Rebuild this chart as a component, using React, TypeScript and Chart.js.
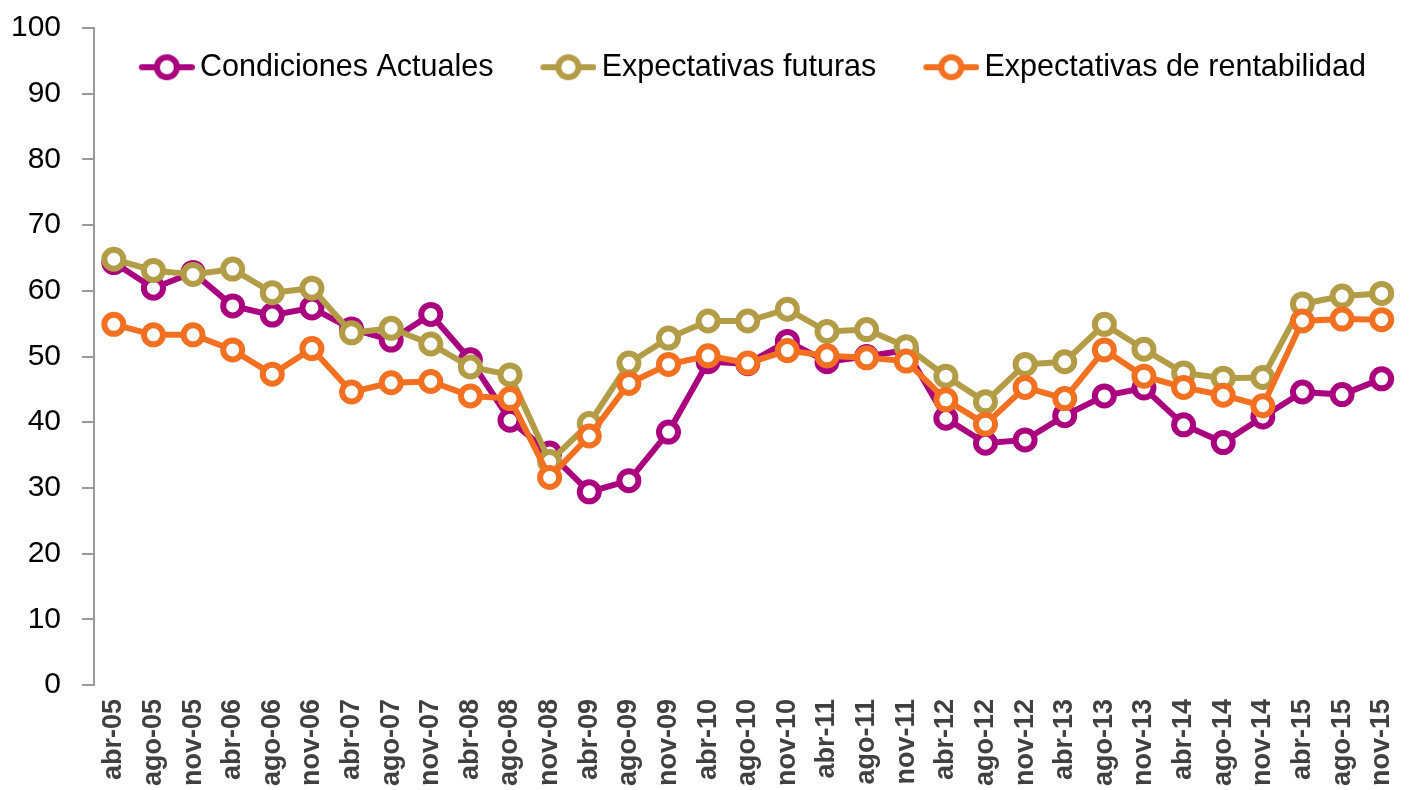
import React, { useEffect, useRef } from "react";
import { Chart, registerables } from "chart.js";

Chart.register(...registerables);

const categories = [
  "abr-05", "ago-05", "nov-05", "abr-06", "ago-06", "nov-06", "abr-07", "ago-07", "nov-07",
  "abr-08", "ago-08", "nov-08", "abr-09", "ago-09", "nov-09", "abr-10", "ago-10", "nov-10",
  "abr-11", "ago-11", "nov-11", "abr-12", "ago-12", "nov-12", "abr-13", "ago-13", "nov-13",
  "abr-14", "ago-14", "nov-14", "abr-15", "ago-15", "nov-15",
];

const condicionesActuales = [
  64.3, 60.4, 62.8, 57.7, 56.3, 57.4, 54.2, 52.5, 56.4, 49.5, 40.3, 35.3, 29.4, 31.1, 38.5,
  49.2, 48.9, 52.3, 49.2, 50.0, 51.0, 40.6, 36.8, 37.3, 41.0, 44.0, 45.2, 39.6, 36.9, 40.8,
  44.6, 44.2, 46.6,
];

const expectativasFuturas = [
  64.8, 63.1, 62.5, 63.3, 59.7, 60.4, 53.6, 54.3, 51.9, 48.4, 47.2, 34.0, 39.8, 49.0, 52.8,
  55.4, 55.4, 57.2, 53.8, 54.1, 51.5, 47.0, 43.1, 48.8, 49.2, 54.9, 51.1, 47.5, 46.7, 46.8,
  58.0, 59.2, 59.6,
];

const expectativasRentabilidad = [
  54.9, 53.3, 53.3, 51.0, 47.3, 51.2, 44.6, 46.0, 46.2, 44.0, 43.6, 31.6, 37.9, 45.9, 48.8,
  50.1, 49.0, 50.9, 50.1, 49.8, 49.3, 43.4, 39.7, 45.3, 43.6, 51.0, 47.0, 45.3, 44.1, 42.5,
  55.4, 55.7, 55.6,
];

const seriesNames = ["Condiciones Actuales", "Expectativas futuras", "Expectativas de rentabilidad"];
const seriesColors = ["#AA0080", "#B39C46", "#F37021"];

const yMin = 0;
const yMax = 100;
const yStep = 10;

const FONT = "'Liberation Sans', Arial, sans-serif";

function makeLegendSample(color: string): HTMLCanvasElement {
  const c = document.createElement("canvas");
  const W = 61;
  const H = 30;
  c.width = W;
  c.height = H;
  const ctx = c.getContext("2d")!;
  const x0 = W - 56;
  const x1 = W;
  const cy = H / 2;
  const cx = (x0 + x1) / 2;
  ctx.strokeStyle = color;
  ctx.lineCap = "round";
  ctx.lineWidth = 6;
  ctx.beginPath();
  ctx.moveTo(x0 + 3, cy);
  ctx.lineTo(x1 - 3, cy);
  ctx.stroke();
  ctx.beginPath();
  ctx.arc(cx, cy, 10, 0, Math.PI * 2);
  ctx.fillStyle = "#ffffff";
  ctx.fill();
  ctx.lineWidth = 6;
  ctx.stroke();
  return c;
}

export default function App() {
  const canvasRef = useRef<HTMLCanvasElement | null>(null);

  useEffect(() => {
    const canvas = canvasRef.current;
    if (!canvas) return;
    const samples = seriesColors.map((c) => makeLegendSample(c));
    const seriesData = [condicionesActuales, expectativasFuturas, expectativasRentabilidad];

    const legendOverlayPlugin = {
      id: "legendOverlay",
      beforeInit(chart: any) {
        const legend = chart.legend;
        if (!legend) return;
        const origFit = legend.fit;
        legend.fit = function () {
          origFit.call(this);
          this.height = 28;
        };
        legend.draw = function () {
          if (!this.options.display) return;
          const ctx = this.ctx;
          ctx.save();
          ctx.translate(-3, 0);
          this._draw();
          ctx.restore();
        };
      },
    };

    const chart = new Chart(canvas, {
      type: "line",
      data: {
        labels: categories,
        datasets: seriesData.map((d, i) => ({
          label: seriesNames[i],
          data: d,
          borderColor: seriesColors[i],
          backgroundColor: seriesColors[i],
          borderWidth: 6,
          pointRadius: 9.5,
          pointBorderWidth: 6,
          pointBackgroundColor: "#ffffff",
          pointBorderColor: seriesColors[i],
          pointHoverRadius: 9.5,
          tension: 0,
          fill: false,
          order: 3 - i,
        })),
      },
      options: {
        responsive: false,
        animation: false,
        layout: { padding: { left: 0, right: -4, top: 0, bottom: 0 } },
        plugins: {
          tooltip: { enabled: false },
          legend: {
            display: true,
            position: "top",
            fullSize: true,
            align: "end",
            labels: {
              usePointStyle: true,
              pointStyleWidth: 41,
              padding: 52,
              color: "#000000",
              font: { family: FONT, size: 30.5 },
              generateLabels: () =>
                seriesNames.map((name, i) => ({
                  text: name,
                  pointStyle: samples[i],
                  fillStyle: "transparent",
                  strokeStyle: "transparent",
                  lineWidth: 0,
                  hidden: false,
                  datasetIndex: i,
                  fontColor: "#000000",
                })),
            },
          },
        },
        scales: {
          x: {
            type: "category",
            offset: true,
            grid: { display: false, drawTicks: false },
            border: { display: false },
            ticks: {
              autoSkip: false,
              minRotation: 90,
              maxRotation: 90,
              padding: 14,
              color: "#404040",
              font: { family: FONT, size: 27, weight: "bold" },
            },
            afterFit(scale: any) {
              scale.height = 105;
              scale.paddingLeft = 0;
              scale.paddingRight = 0;
            },
          },
          y: {
            min: yMin,
            max: yMax,
            grid: {
              drawOnChartArea: false,
              drawTicks: true,
              tickLength: 12,
              color: "#999999",
              lineWidth: 2,
            },
            border: { display: true, color: "#999999", width: 2 },
            ticks: {
              stepSize: yStep,
              padding: 21,
              color: "#000000",
              font: { family: FONT, size: 30 },
            },
            afterFit(scale: any) {
              scale.width = 94;
              scale.paddingTop = 0;
              scale.paddingBottom = 0;
            },
          },
        },
      },
      plugins: [legendOverlayPlugin],
    } as any);

    return () => {
      chart.destroy();
    };
  }, []);

  return (
    <div style={{ position: "fixed", left: 0, top: 0, width: 1417, height: 790, background: "#ffffff" }}>
      <canvas ref={canvasRef} width={1417} height={790} style={{ display: "block" }} />
    </div>
  );
}
